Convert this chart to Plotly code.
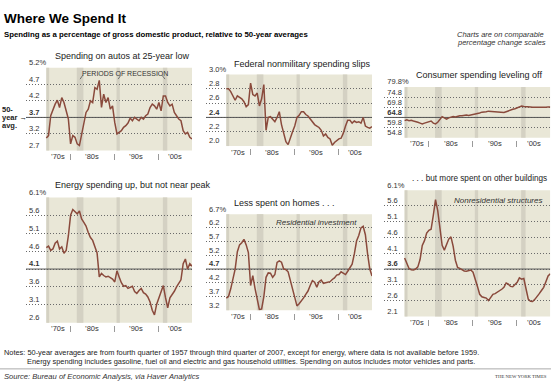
import plotly.graph_objects as go

# ------------------------------------------------------------------ data
start_year = 1974.6          # first (semiannual) observation
step_years = 0.5

autos = [
    3.08,
    3.15, 3.75, 3.95, 4.10, 4.22, 4.00, 4.30, 4.15, 3.90, 3.65,   # 1975-79
    2.90, 3.15, 3.10, 2.90, 2.85, 3.20, 3.50, 3.85, 3.95, 4.20,   # 1980-84
    4.15, 4.60, 4.55, 4.82, 4.00, 4.40, 4.15, 4.30, 3.95, 4.05,   # 1985-89
    3.55, 3.20, 3.25, 3.30, 3.40, 3.45, 3.53, 3.68, 3.60, 3.70,   # 1990-94
    3.65, 3.60, 3.70, 3.65, 3.75, 3.80, 4.00, 4.10, 4.05, 3.95,   # 1995-99
    4.15, 3.90, 4.35, 4.35, 4.15, 4.05, 4.10, 3.85, 3.75, 3.65,   # 2000-04
    3.60, 3.30, 3.20, 3.25, 3.10, 3.05,                           # 2005-07
]
federal = [
    2.80,
    2.80, 2.76, 2.70, 2.64, 2.70, 2.68, 2.66, 2.62, 2.55, 2.58,
    2.88, 2.72, 2.70, 2.74, 2.56, 2.66, 2.86, 2.22, 2.40, 2.41,
    2.38, 2.34, 2.40, 2.48, 2.30, 2.18, 2.06, 2.02, 2.12, 2.20,
    2.28, 2.40, 2.43, 2.48, 2.48, 2.44, 2.42, 2.38, 2.34, 2.30,
    2.28, 2.26, 2.22, 2.14, 2.17, 2.12, 2.10, 2.01, 2.05, 2.08,
    2.10, 2.11, 2.18, 2.28, 2.36, 2.36, 2.32, 2.35, 2.33, 2.34,
    2.32, 2.40, 2.28, 2.26, 2.25, 2.27,
]
consumer = [
    63.2,
    63.6, 63.2, 63.4, 63.0, 62.8, 62.4, 62.0, 61.6, 62.0, 62.4,
    62.6, 63.0, 62.0, 61.6, 62.4, 64.0, 65.2, 64.6, 64.0, 64.6,
    65.0, 65.2, 65.0, 65.4, 65.6, 65.6, 65.8, 66.0, 65.8, 66.0,
    66.4, 66.6, 66.8, 67.0, 67.4, 67.4, 67.6, 67.9, 67.8, 67.6,
    67.6, 67.4, 67.2, 67.1, 67.2, 67.6, 68.1, 68.6, 68.8, 69.1,
    69.6, 70.2, 70.4, 70.2, 70.0, 70.1, 69.9, 69.8, 69.8, 69.6,
    69.6, 69.8, 69.6, 69.8, 70.0, 70.0,
]
energy = [
    4.70,
    4.74, 4.62, 4.66, 4.82, 4.88, 4.66, 4.72, 4.54, 4.62, 5.03,
    5.60, 5.76, 5.70, 5.64, 5.72, 5.50, 5.40, 5.30, 5.12, 4.98,
    4.90, 4.72, 4.55, 3.88, 3.98, 3.92, 3.88, 3.90, 3.86, 3.82,
    3.74, 4.05, 3.88, 3.72, 3.62, 3.64, 3.56, 3.60, 3.62, 3.47,
    3.42, 3.50, 3.56, 3.44, 3.40, 3.32, 3.18, 2.95, 2.82, 3.12,
    3.30, 3.50, 3.64, 3.30, 3.02, 3.30, 3.38, 3.48, 3.60, 3.70,
    3.80, 4.25, 4.38, 4.10, 4.25, 4.18,
]
homes = [
    3.64,
    3.70, 3.98, 4.40, 4.70, 5.33, 5.58, 5.66, 5.78, 5.58, 5.30,
    4.10, 4.46, 4.00, 3.55, 3.22, 3.25, 3.70, 4.40, 4.56, 4.55,
    4.40, 4.50, 4.94, 5.00, 4.95, 4.70, 4.68, 4.60, 4.30, 3.95,
    3.65, 3.36, 3.44, 3.53, 3.65, 3.78, 3.90, 4.10, 4.28, 4.22,
    4.04, 4.24, 4.30, 4.18, 4.20, 4.20, 4.24, 4.32, 4.38, 4.48,
    4.50, 4.60, 4.55, 4.50, 4.62, 4.74, 4.88, 5.25, 5.72, 5.92,
    6.20, 6.26, 5.95, 5.25, 4.70, 4.45,
]
nonres = [
    3.95,
    3.80, 3.62, 3.58, 3.57, 3.60, 3.67, 3.90, 4.35, 4.50, 4.74,
    4.83, 4.86, 5.30, 5.80, 5.45, 4.90, 4.35, 4.20, 4.35, 4.55,
    4.62, 4.32, 3.88, 3.65, 3.62, 3.57, 3.54, 3.53, 3.55, 3.57,
    3.50, 3.30, 3.05, 2.80, 2.72, 2.70, 2.68, 2.60, 2.72, 2.80,
    2.82, 2.86, 2.90, 2.96, 3.02, 3.16, 3.12, 3.05, 3.04, 3.10,
    3.18, 3.32, 3.28, 3.30, 2.95, 2.65, 2.58, 2.57, 2.64, 2.75,
    2.82, 2.92, 3.02, 3.20, 3.38, 3.45,
]

ticks_autos = [2.7, 3.2, 3.7, 4.2, 4.7, 5.2]
ticks_federal = [2.0, 2.2, 2.4, 2.6, 2.8, 3.0]
ticks_consumer = [54.8, 59.8, 64.8, 69.8, 74.8, 79.8]
ticks_energy = [2.6, 3.1, 3.6, 4.1, 4.6, 5.1, 5.6, 6.1]
ticks_homes = [3.2, 3.7, 4.2, 4.7, 5.2, 5.7, 6.2, 6.7]
ticks_nonres = [2.1, 2.6, 3.1, 3.6, 4.1, 4.6, 5.1, 5.6, 6.1]

avg_autos, avg_federal, avg_consumer = 3.7, 2.4, 64.8
avg_energy, avg_homes, avg_nonres = 4.1, 4.7, 3.6

titles = [
    "Spending on autos at 25-year low",
    "Federal nonmilitary spending slips",
    "Consumer spending leveling off",
    "Energy spending up, but not near peak",
    "Less spent on homes . . .",
    ". . . but more spent on other buildings",
]

decade_marks = [1980, 1990, 2000]
decade_labels = ["\u201970s", "\u201980s", "\u201990s", "\u201900s"]
recessions = [(1973.75, 1975.25), (1981.5, 1983.0), (1990.5, 1991.25), (2001.0, 2002.0)]
axis_start = 1970.0

# ------------------------------------------------------------------ style / layout
W, H = 551, 383
BEIGE = "#e9e7d7"
BAND = "#d4d1c3"
LINE = "#8a4a3c"
TXT = "#222222"
FONT = "Liberation Sans, Arial, sans-serif"

dates = [start_year + step_years * i for i in range(len(autos))]

panels = [
    (autos, ticks_autos, avg_autos),
    (federal, ticks_federal, avg_federal),
    (consumer, ticks_consumer, avg_consumer),
    (energy, ticks_energy, avg_energy),
    (homes, ticks_homes, avg_homes),
    (nonres, ticks_nonres, avg_nonres),
]
# pixel geometry of each plot area: left, right, top, bottom
geom = [
    (26, 192, 59.3, 144.3),
    (206, 372, 66.2, 139.7),
    (384.3, 550.3, 79.1, 131.1),
    (26, 192, 192.4, 321.2),
    (206, 372, 209.6, 308.3),
    (384.3, 550.3, 185.0, 314.6),
]
# title placement: (x px, y px, anchor, size)
title_pos = [(53, 47, "left", 9), (232, 55, "left", 9), (414, 67, "left", 9),
             (53, 180, "left", 9), (232, 198, "left", 9), (549, 173, "right", 8.2)]


def px(x):
    return x / W


def py(y):
    return 1 - y / H


fig = go.Figure()
shapes = []
annotations = []
axes = {}

for i, ((vals, ticks, avg), (x0, x1, yt, yb)) in enumerate(zip(panels, geom), start=1):
    sx = "" if i == 1 else str(i)
    xa, ya = "x" + sx, "y" + sx

    # 50-year average line
    fig.add_trace(go.Scatter(x=[axis_start, dates[-1]], y=[avg, avg], mode="lines",
                             line=dict(color="#555555", width=1), xaxis=xa, yaxis=ya,
                             hoverinfo="skip", showlegend=False))
    fig.add_trace(go.Scatter(x=dates, y=vals, mode="lines",
                             line=dict(color=LINE, width=1.5), xaxis=xa, yaxis=ya,
                             hoverinfo="skip", showlegend=False))

    texts = []
    for j, t in enumerate(ticks):
        s = f"{t:.1f}"
        if j == len(ticks) - 1:
            s += "%"
        if abs(t - avg) < 1e-9:
            s = f"<b>{s}</b>"
        texts.append(s)

    axes["xaxis" + sx] = dict(
        domain=[px(x0), px(x1)], range=[axis_start, dates[-1]],
        anchor="free", position=py(yb + 2.5),
        showgrid=False, zeroline=False, showline=False,
        tickmode="array", tickvals=decade_marks, ticks="outside", ticklen=6,
        tickcolor="#9a9a9a", tickwidth=1, showticklabels=False, fixedrange=True)
    axes["yaxis" + sx] = dict(
        domain=[py(yb), py(yt)], range=[ticks[0], ticks[-1]], anchor=xa,
        tickmode="array", tickvals=ticks, ticktext=texts,
        ticklabelposition="inside top", ticklabeloverflow="allow",
        showgrid=True, gridcolor="#6a6a6a", gridwidth=1, griddash="1px,2px",
        zeroline=False, showline=False, ticks="",
        tickfont=dict(size=7.5, color="#333333", family=FONT), fixedrange=True)

    # beige data area and recession bands
    shapes.append(dict(type="rect", xref=xa, yref=ya + " domain", x0=dates[0], x1=dates[-1],
                       y0=0, y1=1, fillcolor=BEIGE, line=dict(width=0), layer="below"))
    for a, b in recessions:
        a2, b2 = max(a, dates[0]), min(b, dates[-1])
        if a2 < b2:
            shapes.append(dict(type="rect", xref=xa, yref=ya + " domain", x0=a2, x1=b2,
                               y0=0, y1=1, fillcolor=BAND, line=dict(width=0), layer="below"))

    # decade labels centred in each visible decade
    bounds = [dates[0]] + decade_marks + [dates[-1]]
    for k, lab in enumerate(decade_labels):
        annotations.append(dict(x=(bounds[k] + bounds[k + 1]) / 2, xref=xa, y=py(yb + 6.2),
                                yref="paper", text=lab, showarrow=False, xanchor="center",
                                font=dict(size=7.5, color="#333333"), yanchor="middle"))

    tx, ty, anc, fs = title_pos[i - 1]
    annotations.append(dict(x=px(tx), y=py(ty), xref="paper", yref="paper", text=titles[i - 1],
                            showarrow=False, xanchor=anc, yanchor="middle",
                            font=dict(size=fs, color=TXT)))

# recession label pointers (panel 1)
for k, (a, b) in enumerate(recessions[1:]):
    m = (a + b) / 2
    off = 0.6 if k < 2 else -0.7
    shapes.append(dict(type="line", xref="x", yref="paper", x0=m + off, x1=m,
                       y0=py(67), y1=py(71), line=dict(color="#555555", width=0.8)))

extra = [
    dict(x=px(125), y=py(65), xanchor="center", text="PERIODS OF RECESSION",
         font=dict(size=7, color="#333333")),
    dict(x=px(316), y=py(218), xanchor="center", text="<i>Residential investment</i>",
         font=dict(size=8, color="#333333")),
    dict(x=px(498), y=py(196), xanchor="center", text="<i>Nonresidential structures</i>",
         font=dict(size=8, color="#333333")),
    dict(x=px(0), y=py(101.7), text="<b>50-</b>", xanchor="left", font=dict(size=7.5, color=TXT)),
    dict(x=px(0), y=py(110.3), text="<b>year \u2192</b>", xanchor="left", font=dict(size=7.5, color=TXT)),
    dict(x=px(0), y=py(119), text="<b>avg.</b>", xanchor="left", font=dict(size=7.5, color=TXT)),
    dict(x=px(2), y=py(9), text="<b>Where We Spend It</b>", xanchor="left",
         font=dict(size=13.5, color="#000000")),
    dict(x=px(2), y=py(25), text="<b>Spending as a percentage of gross domestic product, relative to 50-year averages</b>",
         xanchor="left", font=dict(size=7.8, color="#000000")),
    dict(x=px(455), y=py(25), text="<i>Charts are on comparable</i>", xanchor="left",
         font=dict(size=7.5, color="#333333")),
    dict(x=px(455), y=py(33.5), text="<i>percentage change scales</i>", xanchor="left",
         font=dict(size=7.5, color="#333333")),
    dict(x=px(2), y=py(351.5), xanchor="left", font=dict(size=7.4, color=TXT),
         text="Notes: 50-year averages are from fourth quarter of 1957 through third quarter of 2007, except for energy, where data is not available before 1959."),
    dict(x=px(25), y=py(360.5), xanchor="left", font=dict(size=7.4, color=TXT),
         text="Energy spending includes gasoline, fuel oil and electric and gas household utilities. Spending on autos includes motor vehicles and parts."),
    dict(x=px(2), y=py(376), xanchor="left", font=dict(size=7.6, color="#333333"),
         text="<i>Source: Bureau of Economic Analysis, via Haver Analytics</i>"),
    dict(x=px(549), y=py(376), xanchor="right", text="THE NEW YORK TIMES",
         font=dict(size=4.8, color="#333333", family="Liberation Serif, serif")),
]
for a in extra:
    a.setdefault("xref", "paper")
    a.setdefault("yref", "paper")
    a.setdefault("showarrow", False)
    a.setdefault("yanchor", "middle")
annotations += extra

shapes.append(dict(type="line", xref="paper", yref="paper", x0=0, x1=1, y0=py(368.5), y1=py(368.5),
                   line=dict(color="#aaaaaa", width=1)))

fig.update_layout(
    width=W, height=H, margin=dict(l=0, r=0, t=0, b=0),
    paper_bgcolor="white", plot_bgcolor="white",
    font=dict(family=FONT, color=TXT),
    showlegend=False, hovermode=False, dragmode=False,
    shapes=shapes, annotations=annotations, **axes)

fig.write_html("out.html", config={"displayModeBar": False, "staticPlot": True},
               post_script="document.body.style.margin='0px';document.body.style.padding='0px';")
